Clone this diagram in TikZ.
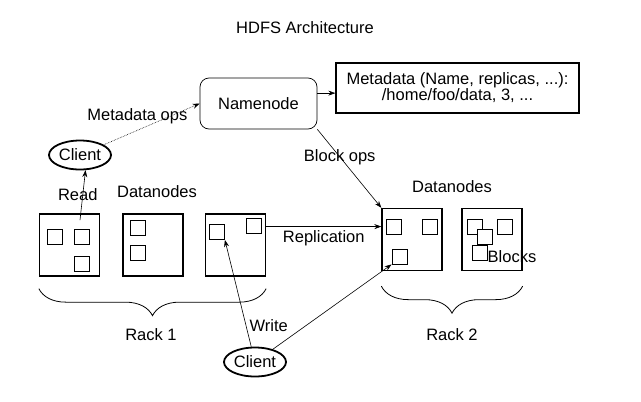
\documentclass[tikz,border=0pt]{standalone}
\usepackage{fontspec}
\setmainfont{Liberation Sans}
\usetikzlibrary{arrows.meta,shapes.geometric,decorations.pathreplacing}

\begin{document}
\begin{tikzpicture}[x=1pt,y=-1pt,
	font=\fontsize{16.5}{17}\selectfont,
	rack/.style={draw,line width=1.3pt,minimum width=60pt,minimum height=62pt,inner sep=0pt},
	blk/.style={draw,fill=white,line width=0.8pt,minimum width=15pt,minimum height=15pt,inner sep=0pt},
	client/.style={draw,ellipse,line width=1.8pt,minimum width=62pt,minimum height=29pt,inner sep=0pt},
	arr/.style={-{Stealth[length=7pt, width=5pt]},line width=0.6pt},
	rackbrace/.style={decorate,decoration={brace,mirror,amplitude=27pt},line width=0.8pt}]
			\useasboundingbox (0,0) rectangle (641,402);
			
			\node (title) at (305,28) {HDFS Architecture};
			\node[draw,rounded corners=9pt,minimum width=117pt,minimum height=51pt,line width=0.7pt] (namenode) at (258.5,103.5) {Namenode};
			\node[draw,line width=1.3pt,minimum width=243pt,minimum height=50pt,align=center,inner sep=0pt,font=\fontsize{16.5}{16}\selectfont] (meta) at (457.5,88) {Metadata (Name, replicas, ...):\\/home/foo/data, 3, ...};
			\node[client] (clientA) at (80,155)  {Client};
			\node[client] (clientB) at (255,362) {Client};
			
			\node (dnA) at (157,192) {Datanodes};
			\node (dnB) at (452,187) {Datanodes};
			
			\node[rack] (r1a) at (69.5,245) {};
			\node[rack] (r1b) at (153,245)  {};
			\node[rack] (r1c) at (235.5,245) {};
			\node[rack] (r2a) at (412,239.5) {};
			\node[rack] (r2b) at (492,239.5) {};
			
			\node[blk] (r1a1) at (55,237)     {};
			\node[blk] (r1a2) at (82,237)     {};
			\node[blk] (r1a3) at (82,263.5)   {};
			\node[blk] (r1b1) at (137.5,228)  {};
			\node[blk] (r1b2) at (137.5,252.5) {};
			\node[blk] (r1c1) at (217,232)    {};
			\node[blk] (r1c2) at (253.5,225.5) {};
			\node[blk] (r2a1) at (394,226.5)  {};
			\node[blk] (r2a2) at (429.5,226.5) {};
			\node[blk] (r2a3) at (399.5,256.5) {};
			\node[blk] (r2b1) at (475,226.5)  {};
			\node[blk] (r2b2) at (504.5,226.5) {};
			\node[blk] (r2b3) at (485,236.5)  {};
			\node[blk] (r2b4) at (479.5,252.5) {};
			\node (blocks) at (512,257) {Blocks};
			
			\path (clientA) edge[arr,densely dotted] node[pos=0.35,above=3pt] {Metadata ops} (namenode.west);
			\path (namenode.10) edge[arr] (namenode.10 -| meta.west);
			\path (namenode.south east) edge[arr] node[pos=0.35] {Block ops} (r2a.north west);
			\path ([xshift=-3pt]r1a2.north) edge[arr,shorten <=9pt] node[pos=0.58,xshift=-5pt] {Read} (clientA.-70);
			\path (r1c.31) edge[arr] node[midway,below] {Replication} (r1c.31 -| r2a.west);
			\path (clientB) edge[arr] node[pos=0.2,right] {Write} (r1c1.south east);
			\path (clientB) edge[arr] (r2a3.south west);
			
			\draw[rackbrace] ([yshift=-12pt]r1a.south west) -- ([yshift=-12pt]r1c.south east);
			\draw[rackbrace] ([yshift=-15pt]r2a.south west) -- ([yshift=-15pt]r2b.south east);
			\node (rack1) at (151,335) {Rack 1};
			\node (rack2) at (452,335) {Rack 2};
			
		\end{tikzpicture}
\end{document}
